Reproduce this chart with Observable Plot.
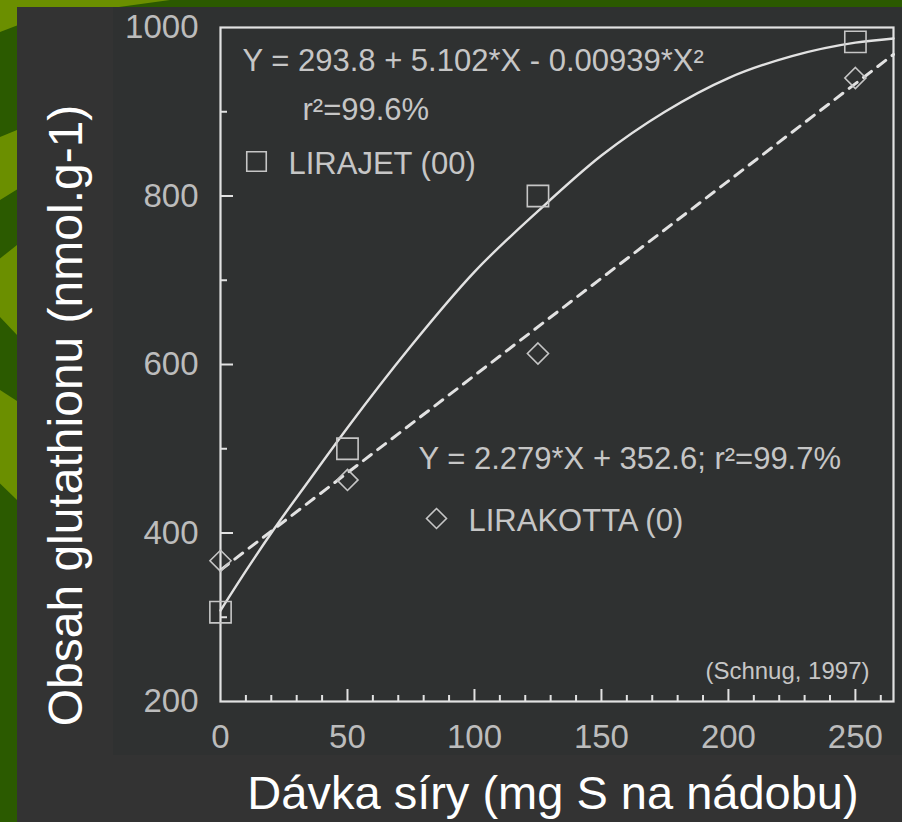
<!DOCTYPE html>
<html><head><meta charset="utf-8">
<script src="https://cdn.jsdelivr.net/npm/d3@7"></script>
<script src="https://cdn.jsdelivr.net/npm/@observablehq/plot@0.6"></script>
<style>
html,body{margin:0;padding:0;width:902px;height:822px;overflow:hidden;background:#2b5a00;}
#slide{position:relative;width:902px;height:822px;}
.olive{position:absolute;background:#6b8f00;}
#panel{position:absolute;left:17px;top:7px;width:885px;height:815px;background:#333333;}
#scan{position:absolute;left:113px;top:7px;width:789px;height:748px;background:#2f3131;}
#chart{position:absolute;left:0;top:0;}
</style></head><body>
<div id="slide">
  <div class="olive" style="left:0;top:0;width:170px;height:7px;clip-path:polygon(0 0,100% 0,70% 100%,0 100%)"></div>
  <div class="olive" style="left:0;top:0;width:17px;height:32px;clip-path:polygon(0 0,100% 0,100% 80%,0 100%)"></div>
  <div class="olive" style="left:0;top:130px;width:17px;height:70px;clip-path:polygon(0 10%,100% 0,100% 85%,0 100%)"></div>
  <div class="olive" style="left:0;top:245px;width:17px;height:90px;clip-path:polygon(0 15%,100% 0,100% 100%,0 80%)"></div>
  <div class="olive" style="left:0;top:390px;width:17px;height:110px;clip-path:polygon(0 0,100% 10%,100% 100%,0 85%)"></div>
  <div id="panel"></div>
  <div id="scan"></div>
  <div id="chart"></div>
</div>
<script>
// LIRAJET (00) – squares
const doseLirajet = [0, 50, 125, 250];
const glutLirajet = [306, 500, 800, 983];
// LIRAKOTTA (0) – diamonds
const doseLirakotta = [0, 50, 125, 250];
const glutLirakotta = [367, 463, 613, 940];
// quadratic fit curve
const fitDose = [0, 10, 20, 35, 50, 75, 100, 125, 150, 175, 200, 225, 250, 265];
const fitGlut = [308, 355, 400, 463, 525, 622, 710, 782, 848, 900, 940, 966, 982, 987];
// linear fit (dashed)
const linDose = [0, 265];
const linGlut = [356, 968];
// axes
const xTickLabels = [0, 50, 100, 150, 200, 250];
const xMajorTicks = [50, 100, 150, 200, 250];
const xMinorTicks = [10, 20, 30, 40, 60, 70, 80, 90, 110, 120, 130, 140, 160, 170, 180, 190, 210, 220, 230, 240, 260];
const yTickLabels = [200, 400, 600, 800, 1000];
const yMajorTicks = [400, 600, 800];
const yMinorTicks = [300, 500, 700, 900];
// texts
const eqJet = "Y = 293.8 + 5.102*X - 0.00939*X²";
const r2Jet = "r²=99.6%";
const nameJet = "LIRAJET (00)";
const eqKotta = "Y = 2.279*X + 352.6; r²=99.7%";
const nameKotta = "LIRAKOTTA (0)";
const source = "(Schnug, 1997)";
const xTitle = "Dávka síry (mg S na nádobu)";
const yTitle = "Obsah glutathionu (nmol.g-1)";

const jet = doseLirajet.map((d, i) => ({dose: d, glut: glutLirajet[i]}));
const kotta = doseLirakotta.map((d, i) => ({dose: d, glut: glutLirakotta[i]}));
const fit = fitDose.map((d, i) => ({dose: d, glut: fitGlut[i]}));
const lin = linDose.map((d, i) => ({dose: d, glut: linGlut[i]}));

const ink = "#c6c6c6";
const lineInk = "#e2e2e2";
const font = "'Liberation Sans', Arial, Helvetica, sans-serif";
const blank = () => "";
const plain = (d) => String(d);

const chart = Plot.plot({
  width: 902, height: 822,
  marginLeft: 220, marginRight: 9, marginTop: 27, marginBottom: 121,
  style: {background: "transparent", color: ink, fontFamily: font},
  x: {domain: [0, 265], label: null},
  y: {domain: [200, 1000], label: null},
  marks: [
    Plot.axisX({ticks: xTickLabels, tickSize: 0, tickPadding: 23, tickFormat: plain, fontSize: 33, fill: "#bcbcbc", label: null}),
    Plot.axisX({ticks: xMinorTicks, tickSize: -6, tickFormat: blank, stroke: lineInk, strokeWidth: 2, label: null}),
    Plot.axisX({ticks: xMajorTicks, tickSize: -12, tickFormat: blank, stroke: lineInk, strokeWidth: 2, label: null}),
    Plot.axisY({ticks: yTickLabels, tickSize: 0, tickPadding: 22, tickFormat: plain, fontSize: 33, fill: "#bcbcbc", label: null}),
    Plot.axisY({ticks: yMinorTicks, tickSize: -7, tickFormat: blank, stroke: lineInk, strokeWidth: 2, label: null}),
    Plot.axisY({ticks: yMajorTicks, tickSize: -13, tickFormat: blank, stroke: lineInk, strokeWidth: 2, label: null}),
    Plot.frame({stroke: lineInk, strokeWidth: 2.2}),
    Plot.line(fit, {x: "dose", y: "glut", curve: "monotone-x", stroke: lineInk, strokeWidth: 2.4}),
    Plot.line(lin, {x: "dose", y: "glut", stroke: lineInk, strokeWidth: 3, strokeDasharray: "10,8"}),
    Plot.dot(jet, {x: "dose", y: "glut", symbol: "square", r: 12, stroke: ink, strokeWidth: 1.6, fill: "none"}),
    Plot.dot(kotta, {x: "dose", y: "glut", symbol: "diamond2", r: 9.5, stroke: ink, strokeWidth: 1.6, fill: "none"}),
    // annotations
    Plot.text([eqJet], {frameAnchor: "top-left", dx: 22, dy: 34, textAnchor: "start", lineAnchor: "middle", fontSize: 31, fill: ink}),
    Plot.text([r2Jet], {frameAnchor: "top-left", dx: 82, dy: 83, textAnchor: "start", lineAnchor: "middle", fontSize: 31, fill: ink}),
    Plot.dot([nameJet], {frameAnchor: "top-left", dx: 36, dy: 134, symbol: "square", r: 11, stroke: ink, strokeWidth: 1.6, fill: "none"}),
    Plot.text([nameJet], {frameAnchor: "top-left", dx: 68, dy: 137, textAnchor: "start", lineAnchor: "middle", fontSize: 31, fill: ink}),
    Plot.text([eqKotta], {frameAnchor: "top-left", dx: 198, dy: 432, textAnchor: "start", lineAnchor: "middle", fontSize: 31, fill: ink}),
    Plot.dot([nameKotta], {frameAnchor: "top-left", dx: 216, dy: 491, symbol: "diamond2", r: 9, stroke: ink, strokeWidth: 1.6, fill: "none"}),
    Plot.text([nameKotta], {frameAnchor: "top-left", dx: 248, dy: 494, textAnchor: "start", lineAnchor: "middle", fontSize: 31, fill: ink}),
    Plot.text([source], {frameAnchor: "bottom-right", dx: -24, dy: -30, textAnchor: "end", lineAnchor: "middle", fontSize: 24, fill: ink}),
    // axis titles
    Plot.text([xTitle], {frameAnchor: "bottom", dx: -4, dy: 92, textAnchor: "middle", lineAnchor: "middle", fontSize: 47, fill: "#ffffff"}),
    Plot.text([yTitle], {frameAnchor: "left", dx: -154, dy: 51, rotate: -90, textAnchor: "middle", lineAnchor: "middle", fontSize: 48, fill: "#ffffff"})
  ]
});
document.getElementById("chart").appendChild(chart);
</script>
</body></html>
